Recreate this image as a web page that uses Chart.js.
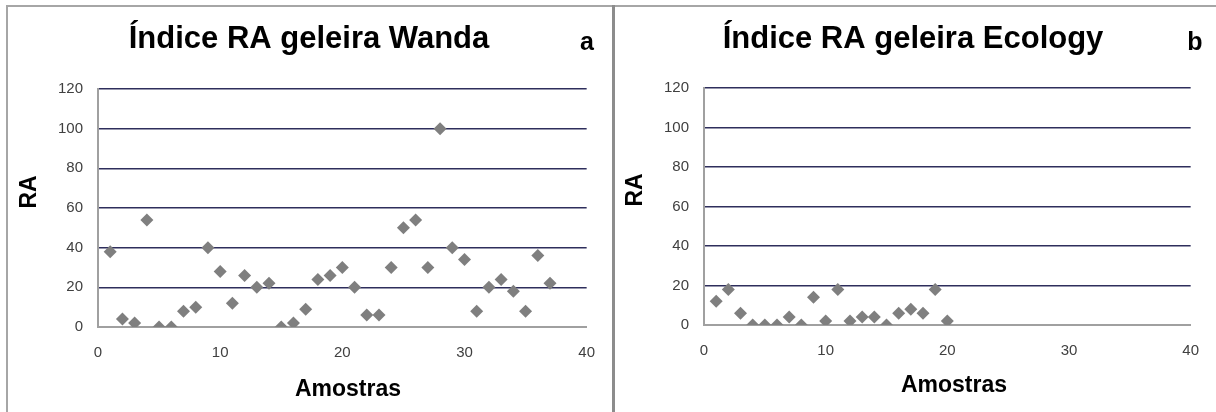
<!DOCTYPE html>
<html>
<head>
<meta charset="utf-8">
<script src="https://cdn.jsdelivr.net/npm/chart.js@4.4.1/dist/chart.umd.min.js"></script>
<style>
  body { margin: 0; background: #fff; }
  #wrap { position: relative; width: 1216px; height: 412px; overflow: hidden; }
  canvas { position: absolute; top: 0; }
  #c1 { left: 0; }
  #c2 { left: 616px; }
  .line { position: absolute; background: #a6a6a6; }
</style>
</head>
<body>
<div id="wrap">
  <canvas id="c1" width="612" height="412"></canvas>
  <canvas id="c2" width="600" height="412"></canvas>
  <div class="line" style="left:6px;top:5px;width:1210px;height:2px;"></div>
  <div class="line" style="left:6px;top:5px;width:2px;height:407px;"></div>
  <div class="line" style="left:612px;top:5px;width:3px;height:407px;background:#8c8c8c;"></div>
</div>
<script>
// amostras (x) e valores de RA (y)
const amostrasWanda = [1,2,3,4,5,6,7,8,9,10,11,12,13,14,15,16,17,18,19,20,21,22,23,24,25,26,27,28,29,30,31,32,33,34,35,36,37];
const raWanda = [38,4,2,54,0,0,8,10,40,28,12,26,20,22,0,2,9,24,26,30,20,6,6,30,50,54,30,100,40,34,8,20,24,18,8,36,22];

const amostrasEcology = [1,2,3,4,5,6,7,8,9,10,11,12,13,14,15,16,17,18,19,20];
const raEcology = [12,18,6,0,0,0,4,0,14,2,18,2,4,4,0,6,8,6,18,2];

const xTickValues = [0,10,20,30,40];
const yTickValues = [0,20,40,60,80,100,120];

const titles = ['Índice RA geleira Wanda', 'Índice RA geleira Ecology'];
const letters = ['a', 'b'];

function toPoints(xs, ys) {
  return xs.map((x, i) => ({ x: x, y: ys[i] }));
}

// textos desenhados por cima do grafico
const textPlugin = {
  id: 'textos',
  afterDraw(chart) {
    const t = chart.options.plugins.textos;
    const ctx = chart.ctx;
    ctx.save();
    ctx.fillStyle = '#000';
    ctx.textAlign = 'center';
    ctx.textBaseline = 'alphabetic';
    ctx.font = 'bold 31px "Liberation Sans", Arial, sans-serif';
    ctx.fillText(t.title, t.titleX, 48);
    ctx.font = 'bold 25px "Liberation Sans", Arial, sans-serif';
    ctx.fillText(t.letter, t.letterX, 50);
    ctx.font = 'bold 23px "Liberation Sans", Arial, sans-serif';
    ctx.textBaseline = 'middle';
    ctx.fillText('Amostras', t.xTitleX, t.xTitleY);
    ctx.translate(t.yTitleX, t.yTitleY);
    ctx.rotate(-Math.PI / 2);
    ctx.fillText('RA', 0, 0);
    ctx.restore();
  }
};

function makeChart(id, xs, ys, opts) {
  const ctx = document.getElementById(id);
  return new Chart(ctx, {
    type: 'scatter',
    data: {
      datasets: [{
        data: toPoints(xs, ys),
        pointStyle: 'rectRot',
        pointRadius: 6.5,
        pointHoverRadius: 6.5,
        backgroundColor: '#7f7f7f',
        borderColor: '#7f7f7f',
        borderWidth: 0
      }]
    },
    options: {
      responsive: false,
      animation: false,
      events: [],
      layout: { padding: { top: opts.top, right: opts.right, bottom: 0, left: 0 } },
      plugins: {
        legend: { display: false },
        tooltip: { enabled: false },
        textos: opts.text
      },
      scales: {
        x: {
          type: 'linear',
          min: 0,
          max: 40,
          afterBuildTicks: (scale) => { scale.ticks = xTickValues.map(v => ({ value: v })); },
          afterFit: (scale) => { scale.height = opts.xHeight; },
          grid: { display: false, drawTicks: false },
          border: { display: true, color: '#a0a0a0', width: 2 },
          ticks: { padding: 17, color: '#404040', font: { family: 'Liberation Sans', size: 15 } }
        },
        y: {
          min: 0,
          max: 120,
          afterBuildTicks: (scale) => { scale.ticks = yTickValues.map(v => ({ value: v })); },
          afterFit: (scale) => { scale.width = opts.yWidth; },
          grid: {
            drawTicks: false,
            lineWidth: 1.5,
            color: (c) => c.tick && c.tick.value === 0 ? 'rgba(0,0,0,0)' : '#2e2e5c'
          },
          border: { display: true, color: '#a0a0a0', width: 2 },
          ticks: { padding: 15, color: '#404040', font: { family: 'Liberation Sans', size: 15 } }
        }
      }
    },
    plugins: [textPlugin]
  });
}

makeChart('c1', amostrasWanda, raWanda, {
  top: 89, right: 23, xHeight: 85, yWidth: 98,
  text: { title: titles[0], titleX: 309, letter: letters[0], letterX: 587,
          xTitleX: 348, xTitleY: 390, yTitleX: 30, yTitleY: 192 }
});

makeChart('c2', amostrasEcology, raEcology, {
  top: 88, right: 24, xHeight: 87, yWidth: 88,
  text: { title: titles[1], titleX: 297, letter: letters[1], letterX: 579,
          xTitleX: 338, xTitleY: 386, yTitleX: 20, yTitleY: 190 }
});
</script>
</body>
</html>
